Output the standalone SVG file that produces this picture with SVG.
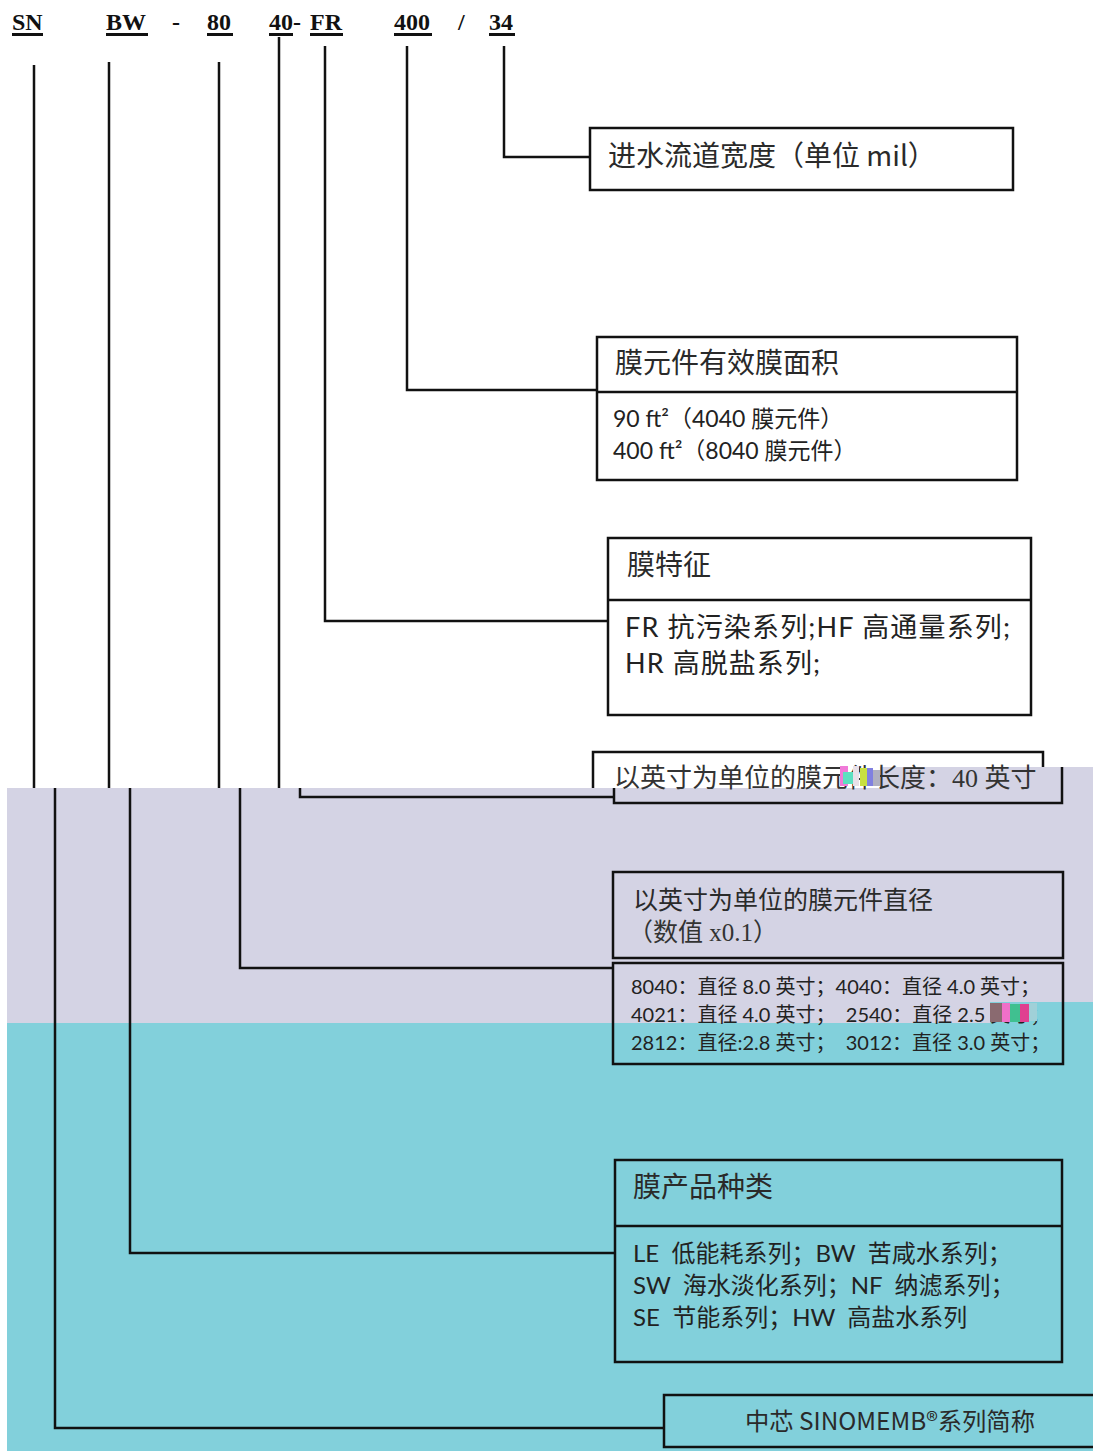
<svg xmlns="http://www.w3.org/2000/svg" width="1093" height="1451" viewBox="0 0 1093 1451">
<style>
.code{font-family:"Liberation Serif",serif;font-weight:bold;font-size:24px;fill:#111}
.box{fill:none;stroke:#111;stroke-width:2.5}
.ln{fill:none;stroke:#111;stroke-width:2.5}
.t{font-family:"Noto Sans CJK SC",sans-serif;fill:#2a2a2a}
.b{font-family:Lato,"Noto Sans CJK SC",sans-serif;fill:#222;white-space:pre}
.s{font-family:"Liberation Serif","Noto Sans CJK SC",serif;fill:#333}
</style>
<rect x="0" y="0" width="1093" height="1451" fill="#ffffff"/>
<g id="background">
<polygon points="7,788 880,788 880,767 1093,767 1093,1002 990,1002 990,1023 7,1023" fill="#d4d3e4"/>
<polygon points="7,1023 990,1023 990,1002 1093,1002 1093,1451 7,1451" fill="#82d0db"/>
</g>
<g id="code">
<text class="code" x="12" y="30">SN</text>
<text class="code" x="106" y="30">BW</text>
<text class="code" x="172" y="30">-</text>
<text class="code" x="207" y="30">80</text>
<text class="code" x="269" y="30">40-</text>
<text class="code" x="310" y="30">FR</text>
<text class="code" x="394" y="30">400</text>
<text class="code" x="458" y="30">/</text>
<text class="code" x="489" y="30">34</text>
<g fill="#111">
<rect x="12" y="33" width="31" height="3"/>
<rect x="106" y="33" width="42" height="3"/>
<rect x="207" y="33" width="26" height="3"/>
<rect x="269" y="33" width="24" height="3"/>
<rect x="310" y="33" width="33" height="3"/>
<rect x="394" y="33" width="38" height="3"/>
<rect x="489" y="33" width="26" height="3"/>
</g>
</g>
<g id="connectors">
<polyline class="ln" points="504,46 504,157 590,157"/>
<polyline class="ln" points="407,46 407,390 597,390"/>
<polyline class="ln" points="325,46 325,621 608,621"/>
<line class="ln" x1="279" y1="37" x2="279" y2="788"/>
<polyline class="ln" points="300,788 300,797 614,797"/>
<line class="ln" x1="219" y1="62" x2="219" y2="788"/>
<polyline class="ln" points="240,788 240,968 613,968"/>
<line class="ln" x1="109" y1="62" x2="109" y2="788"/>
<polyline class="ln" points="130,788 130,1253 615,1253"/>
<line class="ln" x1="34" y1="65" x2="34" y2="788"/>
<polyline class="ln" points="55,788 55,1428 664,1428"/>
</g>
<g id="node-width">
<rect class="box" x="590" y="128" width="423" height="62"/>
<text class="t" x="608" y="166" font-size="28">进水流道宽度（单位 mil）</text>
</g>
<g id="node-area">
<rect class="box" x="597" y="337" width="420" height="143"/>
<line class="ln" x1="597" y1="392" x2="1017" y2="392"/>
<text class="t" x="615" y="373" font-size="28">膜元件有效膜面积</text>
<text class="b" x="613" y="427" font-size="23">90 ft²（4040 膜元件）</text>
<text class="b" x="613" y="459" font-size="23">400 ft²（8040 膜元件）</text>
</g>
<g id="node-feature">
<rect class="box" x="608" y="538" width="423" height="177"/>
<line class="ln" x1="608" y1="600" x2="1031" y2="600"/>
<text class="t" x="627" y="575" font-size="28">膜特征</text>
<text class="b" x="625" y="637" font-size="27" textLength="385" lengthAdjust="spacing">FR 抗污染系列;HF 高通量系列;</text>
<text class="b" x="625" y="673" font-size="27" textLength="195" lengthAdjust="spacing">HR 高脱盐系列;</text>
</g>
<g id="node-length">
<polyline class="ln" points="593,788 593,752 1043,752 1043,767"/>
<polyline class="ln" points="614,788 614,803 1062,803 1062,767"/>
<text class="s" x="614" y="787" font-size="26">以英寸为单位的膜元件长度：40 英寸</text>
<g>
<rect x="840" y="766" width="8" height="20" fill="#f07ad8"/>
<rect x="843" y="772" width="10" height="12" fill="#5ce0c0"/>
<rect x="853" y="766" width="6" height="20" fill="#e8e0e8"/>
<rect x="860" y="768" width="7" height="18" fill="#c8e040"/>
<rect x="867" y="768" width="6" height="18" fill="#8080e0"/>
<rect x="873" y="770" width="7" height="16" fill="#b0b0c0"/>
</g>
</g>
<g id="node-diameter">
<rect class="box" x="613" y="872" width="450" height="86"/>
<rect class="box" x="613" y="963" width="450" height="101"/>
<text class="t" x="633" y="909" font-size="25">以英寸为单位的膜元件直径</text>
<text class="s" x="628" y="941" font-size="25">（数值 x0.1）</text>
<text class="b" x="631" y="994" font-size="20">8040：直径 8.0 英寸；4040：直径 4.0 英寸；</text>
<text class="b" x="631" y="1022" font-size="20" xml:space="preserve">4021：直径 4.0 英寸；  2540：直径 2.5 英寸；</text>
<text class="b" x="631" y="1050" font-size="20" xml:space="preserve">2812：直径:2.8 英寸；  3012：直径 3.0 英寸；</text>
<g>
<rect x="990" y="1003" width="12" height="19" fill="#8a6a70"/>
<rect x="1002" y="1003" width="8" height="19" fill="#f070c8"/>
<rect x="1010" y="1004" width="10" height="18" fill="#40c090"/>
<rect x="1020" y="1004" width="9" height="18" fill="#e04090"/>
<rect x="1029" y="1003" width="8" height="18" fill="#a0d0d8"/>
</g>
</g>
<g id="node-type">
<rect class="box" x="615" y="1160" width="447" height="202"/>
<line class="ln" x1="615" y1="1226" x2="1062" y2="1226"/>
<text class="t" x="633" y="1197" font-size="28">膜产品种类</text>
<text class="b" x="633" y="1262" font-size="24" xml:space="preserve">LE  低能耗系列；BW  苦咸水系列；</text>
<text class="b" x="633" y="1294" font-size="24" xml:space="preserve">SW  海水淡化系列；NF  纳滤系列；</text>
<text class="b" x="633" y="1326" font-size="24" xml:space="preserve">SE  节能系列；HW  高盐水系列</text>
</g>
<g id="node-brand">
<rect class="box" x="664" y="1395" width="450" height="52"/>
<text class="t" x="745" y="1430" font-size="24" textLength="290" lengthAdjust="spacingAndGlyphs">中芯 SINOMEMB®系列简称</text>
</g>
</svg>
